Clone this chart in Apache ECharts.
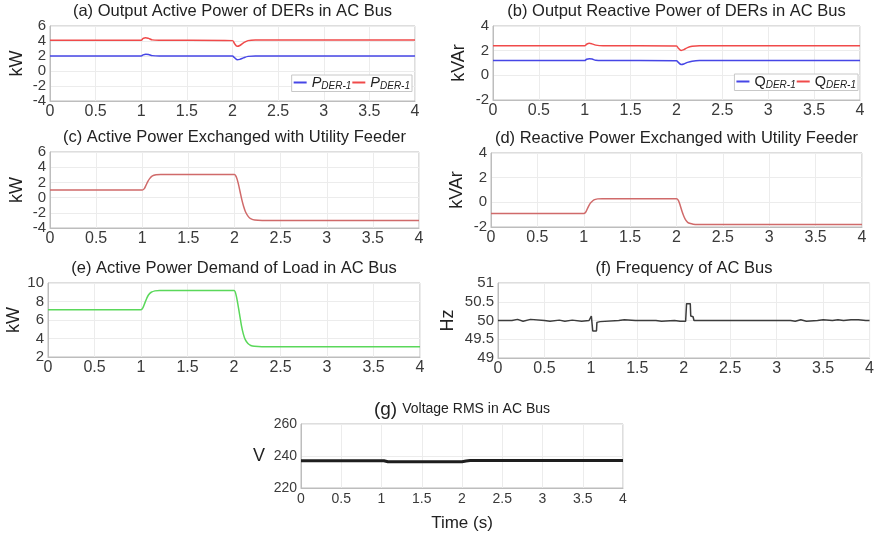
<!DOCTYPE html>
<html>
<head>
<meta charset="utf-8">
<script src="https://cdn.jsdelivr.net/npm/echarts@6/dist/echarts.min.js"></script>
<style>
  html, body { margin: 0; padding: 0; background: #fff; }
  #chart { width: 877px; height: 538px; }
</style>
</head>
<body>
<div id="chart"></div>
<script>
// (a) active power of DERs
const tDer = [0, 1.0, 1.02, 1.05, 1.08, 1.12, 1.2, 2.0, 2.02, 2.05, 2.08, 2.12, 2.17, 2.25, 4]
const pDer1 = [2.0, 2.0, 2.15, 2.25, 2.2, 2.05, 2.0, 2.0, 1.8, 1.5, 1.55, 1.75, 1.95, 2.0, 2.0]
const pDer2 = [4.1, 4.1, 4.35, 4.45, 4.35, 4.15, 4.1, 4.05, 3.7, 3.3, 3.4, 3.75, 4.05, 4.15, 4.15]
// (b) reactive power of DERs
const qDer1 = [1.2, 1.2, 1.3, 1.35, 1.32, 1.22, 1.2, 1.18, 1.05, 0.88, 0.92, 1.05, 1.15, 1.2, 1.2]
const qDer2 = [2.4, 2.4, 2.52, 2.6, 2.55, 2.45, 2.4, 2.38, 2.2, 2.02, 2.08, 2.25, 2.35, 2.4, 2.4]

// (c) (d) (e) step changes
const tStep = [0, 1.0, 1.02, 1.04, 1.06, 1.08, 1.11, 1.15, 1.2, 2.0, 2.02, 2.04, 2.06, 2.08, 2.1, 2.12, 2.15, 2.18, 2.22, 2.3, 4]
const pGrid = [1.0, 1.0, 1.15, 1.6, 2.1, 2.5, 2.85, 3.0, 3.05, 3.05, 2.7, 1.9, 0.8, -0.3, -1.2, -1.9, -2.5, -2.8, -2.95, -3.0, -3.0]
const qGrid = [-0.9, -0.9, -0.8, -0.5, -0.2, 0.0, 0.2, 0.28, 0.3, 0.3, 0.15, -0.25, -0.75, -1.15, -1.45, -1.62, -1.72, -1.77, -1.8, -1.8, -1.8]
const pLoad = [7.1, 7.1, 7.3, 7.8, 8.3, 8.7, 9.0, 9.15, 9.2, 9.2, 8.8, 7.8, 6.6, 5.4, 4.5, 3.9, 3.45, 3.25, 3.15, 3.1, 3.1]

// (f) frequency
const tFreq = [0, 0.15, 0.17, 0.21, 0.23, 0.27, 0.29, 0.35, 0.37, 0.5, 0.52, 0.56, 0.58, 0.66, 0.68, 0.72, 0.74, 0.8, 0.82, 0.9, 0.92, 0.98,
  1.0, 1.005, 1.015, 1.02, 1.06, 1.065, 1.1, 1.12, 1.3, 1.32, 1.36, 1.38, 1.48, 1.5, 1.52, 1.7, 1.72, 1.76, 1.78, 1.9, 1.92, 1.96, 2.02,
  2.03, 2.07, 2.075, 2.1, 2.11, 2.4, 2.42, 2.46, 2.55, 2.57, 2.6, 2.82, 2.84, 2.88, 3.15, 3.17, 3.2, 3.22, 3.26, 3.28, 3.32, 3.34, 3.44,
  3.46, 3.5, 3.52, 3.6, 3.62, 3.66, 3.68, 3.72, 3.74, 3.8, 3.82, 3.88, 3.9, 3.96, 4]
const freq = [50.0, 50.0, 50.03, 50.03, 49.98, 49.98, 50.03, 50.03, 50.0, 50.0, 49.98, 49.98, 50.01, 50.01, 49.98, 49.98, 50.01, 50.01, 49.98, 49.98, 50.02, 50.0,
  50.0, 50.12, 50.12, 49.72, 49.72, 49.95, 49.97, 50.0, 50.0, 50.02, 50.02, 50.0, 50.0, 50.02, 50.0, 50.0, 49.98, 49.98, 50.0, 50.0, 50.02, 49.98, 49.98,
  50.45, 50.45, 50.12, 50.1, 50.0, 50.0, 49.98, 50.0, 50.0, 50.02, 50.0, 50.0, 49.98, 50.0, 50.0, 49.98, 49.98, 50.02, 50.02, 49.98, 49.98, 50.0, 50.0,
  50.02, 50.02, 50.0, 50.0, 50.02, 50.02, 50.0, 50.0, 50.02, 50.02, 50.0, 50.02, 50.02, 50.0, 50.0]

// (g) voltage rms
const tVolt = [0, 1.03, 1.08, 2.0, 2.05, 2.1, 4]
const volt = [237.0, 237.0, 236.4, 236.4, 236.9, 237.2, 237.2]

const xTicks = { min: 0, max: 4, interval: 0.5 }
const yRanges = [[-4, 6, 2], [-2, 4, 2], [-4, 6, 2], [-2, 4, 2], [2, 10, 2], [49, 51, 0.5], [220, 260, 20]]
const yNames = ['kW', 'kVAr', 'kW', 'kVAr', 'kW', 'Hz', 'V']
const titles = [
  '(a) Output Active Power of DERs in AC Bus',
  '(b) Output Reactive Power of DERs in AC Bus',
  '(c) Active Power Exchanged with Utility Feeder',
  '(d) Reactive Power Exchanged with Utility Feeder',
  '(e) Active Power Demand of Load in AC Bus',
  '(f) Frequency of AC Bus'
]

const grids = [
  { left: 50, top: 26, width: 365, height: 75 },
  { left: 493, top: 26, width: 367, height: 74 },
  { left: 50, top: 152, width: 369, height: 76 },
  { left: 491, top: 153, width: 371, height: 74 },
  { left: 48, top: 283, width: 372, height: 74 },
  { left: 498, top: 283, width: 372, height: 75 },
  { left: 301, top: 424, width: 322, height: 64 }
]
const nameGaps = [24, 25, 24, 25, 25, 41, 36]

const zip = (t, v) => t.map((x, i) => [x, v[i]])

let myChart = echarts.init(document.getElementById('chart'))

const textColor = '#3a3a3a'
const fontFamily = 'Liberation Sans, Arial, sans-serif'

const legendRich = {
  p: { fontSize: 14.5, fontStyle: 'italic', color: '#222', lineHeight: 18, verticalAlign: 'middle', fontFamily: fontFamily },
  s: { fontSize: 10, fontStyle: 'italic', color: '#222', lineHeight: 9, verticalAlign: 'bottom', fontFamily: fontFamily }
}

let option = {
  animation: false,
  textStyle: { fontFamily: fontFamily },
  title: titles.map((t, i) => ({
    text: t,
    left: grids[i].left + grids[i].width / 2,
    top: grids[i].top - 23,
    textAlign: 'center',
    padding: 0,
    textStyle: { fontSize: 16.5, fontWeight: 'normal', color: '#222', fontFamily: fontFamily }
  })).concat([{
    text: '{a|(g)} {b|Voltage RMS in AC Bus}',
    left: grids[6].left + grids[6].width / 2,
    top: grids[6].top - 24,
    textAlign: 'center',
    padding: 0,
    textStyle: {
      fontFamily: fontFamily,
      fontWeight: 'normal',
      rich: {
        a: { fontSize: 19, color: '#222', fontWeight: 'normal', fontFamily: fontFamily },
        b: { fontSize: 14, color: '#222', fontWeight: 'normal', fontFamily: fontFamily }
      }
    }
  }]),
  grid: grids.map(g => Object.assign({ show: true, borderColor: '#bdbdbd', borderWidth: 1, backgroundColor: '#fff' }, g)),
  legend: [
    {
      data: ['pa1', 'pa2'],
      right: 465, top: 75,
      itemWidth: 13, itemHeight: 2, itemGap: 1, icon: 'rect',
      padding: [0, 2, 0, 2],
      borderColor: '#c8c8c8', borderWidth: 1, backgroundColor: '#fff',
      formatter: () => '{p|P}{s|DER-1}',
      textStyle: { rich: legendRich }
    },
    {
      data: ['qb1', 'qb2'],
      right: 19, top: 74,
      itemWidth: 13, itemHeight: 2, itemGap: 1, icon: 'rect',
      padding: [0, 2, 0, 2],
      borderColor: '#c8c8c8', borderWidth: 1, backgroundColor: '#fff',
      formatter: () => '{p|Q}{s|DER-1}',
      textStyle: {
        rich: {
          p: Object.assign({}, legendRich.p, { fontStyle: 'normal' }),
          s: legendRich.s
        }
      }
    }
  ],
  xAxis: grids.map((g, i) => ({
    type: 'value',
    gridIndex: i,
    min: xTicks.min, max: xTicks.max, interval: xTicks.interval,
    axisLine: { show: true, onZero: false, lineStyle: { color: '#bdbdbd' } },
    axisTick: { show: false },
    axisLabel: { color: textColor, fontSize: i === 6 ? 14 : 16, margin: i === 6 ? 4 : 3, showMinLabel: true, showMaxLabel: true },
    splitLine: { show: true, lineStyle: { color: '#ececec' } },
    name: i === 6 ? 'Time (s)' : '',
    nameLocation: 'middle',
    nameGap: 27,
    nameTextStyle: { fontSize: 17, color: '#222' }
  })),
  yAxis: grids.map((g, i) => ({
    type: 'value',
    gridIndex: i,
    min: yRanges[i][0], max: yRanges[i][1], interval: yRanges[i][2],
    axisLine: { show: true, onZero: false, lineStyle: { color: '#bdbdbd' } },
    axisTick: { show: false },
    axisLabel: { color: textColor, fontSize: i === 6 ? 14 : 15, interval: 0, margin: 4, showMinLabel: true, showMaxLabel: true },
    splitLine: { show: true, lineStyle: { color: '#ececec' } },
    name: yNames[i],
    nameLocation: 'middle',
    nameGap: nameGaps[i],
    nameRotate: i === 6 ? 0 : 90,
    nameTextStyle: { fontSize: 18, color: '#222' }
  })),
  series: [
    { name: 'pa1', type: 'line', xAxisIndex: 0, yAxisIndex: 0, data: zip(tDer, pDer1), showSymbol: false, smooth: 0.3, color: '#4646e6', lineStyle: { width: 1.5 } },
    { name: 'pa2', type: 'line', xAxisIndex: 0, yAxisIndex: 0, data: zip(tDer, pDer2), showSymbol: false, smooth: 0.3, color: '#f04a4a', lineStyle: { width: 1.5 } },
    { name: 'qb1', type: 'line', xAxisIndex: 1, yAxisIndex: 1, data: zip(tDer, qDer1), showSymbol: false, smooth: 0.3, color: '#4646e6', lineStyle: { width: 1.5 } },
    { name: 'qb2', type: 'line', xAxisIndex: 1, yAxisIndex: 1, data: zip(tDer, qDer2), showSymbol: false, smooth: 0.3, color: '#f04a4a', lineStyle: { width: 1.5 } },
    { name: 'pgrid', type: 'line', xAxisIndex: 2, yAxisIndex: 2, data: zip(tStep, pGrid), showSymbol: false, smooth: 0.3, color: '#d06a6a', lineStyle: { width: 1.5 } },
    { name: 'qgrid', type: 'line', xAxisIndex: 3, yAxisIndex: 3, data: zip(tStep, qGrid), showSymbol: false, smooth: 0.3, color: '#d06a6a', lineStyle: { width: 1.5 } },
    { name: 'pload', type: 'line', xAxisIndex: 4, yAxisIndex: 4, data: zip(tStep, pLoad), showSymbol: false, smooth: 0.3, color: '#5ad85a', lineStyle: { width: 1.5 } },
    { name: 'freq', type: 'line', xAxisIndex: 5, yAxisIndex: 5, data: zip(tFreq, freq), showSymbol: false, color: '#3c3c3c', lineStyle: { width: 1.5 } },
    { name: 'volt', type: 'line', xAxisIndex: 6, yAxisIndex: 6, data: zip(tVolt, volt), showSymbol: false, color: '#1e1e1e', lineStyle: { width: 3 } }
  ]
}

myChart.setOption(option)
</script>
</body>
</html>
